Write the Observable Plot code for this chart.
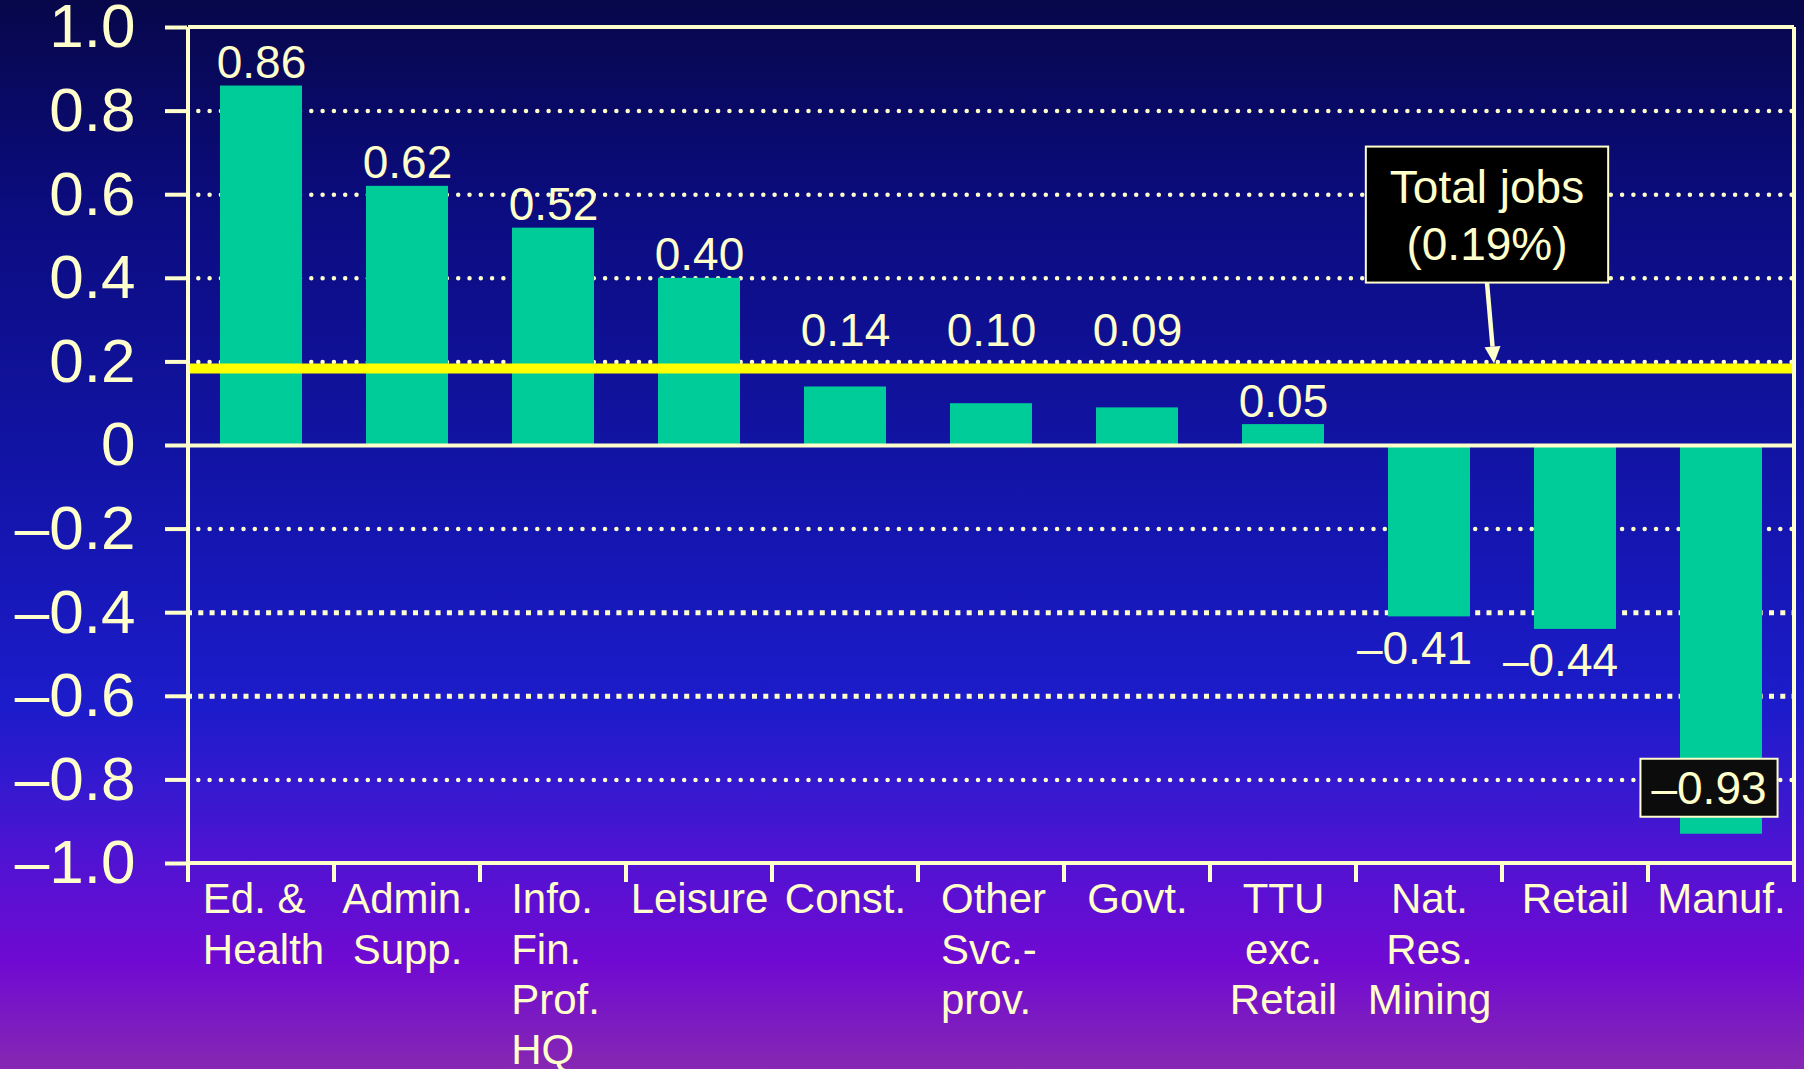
<!DOCTYPE html>
<html>
<head>
<meta charset="utf-8">
<script src="https://cdn.jsdelivr.net/npm/d3@7"></script>
<script src="https://cdn.jsdelivr.net/npm/@observablehq/plot@0.6"></script>
<style>
  html, body { margin: 0; padding: 0; }
  body {
    width: 1804px; height: 1069px; overflow: hidden;
    background: linear-gradient(to bottom,
      #07074a 0%, #0b0c7e 19%, #1113a0 40%, #1516b0 50%, #1c1ccb 66%,
      #3a18d0 75%, #4c14d2 79%, #700ad2 90%, #8628b2 100%);
    font-family: "Liberation Sans", Arial, sans-serif;
  }
</style>
</head>
<body>
<div id="chart"></div>
<script>
// ---- data ----
const categories = ["Ed. &\nHealth", "Admin.\nSupp.", "Info.\nFin.\nProf.\nHQ", "Leisure", "Const.",
  "Other\nSvc.-\nprov.", "Govt.", "TTU\nexc.\nRetail", "Nat.\nRes.\nMining", "Retail", "Manuf."];
const values = [0.86, 0.62, 0.52, 0.40, 0.14, 0.10, 0.09, 0.05, -0.41, -0.44, -0.93];
const valueLabels = ["0.86", "0.62", "0.52", "0.40", "0.14", "0.10", "0.09", "0.05", "–0.41", "–0.44", "–0.93"];
const totalJobs = 0.19;
const totalLines = ["Total jobs", "(0.19%)"];
const yTicks = [-1.0, -0.8, -0.6, -0.4, -0.2, 0, 0.2, 0.4, 0.6, 0.8, 1.0];
const yTickLabels = ["–1.0", "–0.8", "–0.6", "–0.4", "–0.2", "0", "0.2", "0.4", "0.6", "0.8", "1.0"];
const gridTicks = [-0.8, -0.6, -0.4, -0.2, 0.2, 0.4, 0.6, 0.8];

// ---- styling ----
const cream = "#FFFFCC";
const barColor = "#00CC99";
const font = '"Liberation Sans", Arial, sans-serif';
const squareGrid = new Set([-0.4, -0.6]);
const leftAligned = new Set(["Ed. &\nHealth", "Info.\nFin.\nProf.\nHQ", "Other\nSvc.-\nprov."]);

const data = categories.map((c, i) => ({cat: c, value: values[i], label: valueLabels[i]}));
const tickLabel = new Map(yTicks.map((t, i) => [Math.round(t * 10), yTickLabels[i]]));

const ctx = document.createElement("canvas").getContext("2d");
function textWidth(s, size) { ctx.font = `${size}px ${font}`; return ctx.measureText(s).width; }

const W = 1804, H = 1069, ML = 187, MR = 10, MT = 27, MB = 206;
const xFontSize = 42;

// frame, axis lines and category ticks (band boundaries)
function frameMark(index, scales) {
  const {x, y} = scales;
  const bw = x.bandwidth();
  const x0 = x(categories[0]);
  const x1 = x(categories[categories.length - 1]) + bw;
  const yTop = y(1), yBot = y(-1), tickLen = 19;
  const g = d3.create("svg:g").attr("stroke", cream).attr("stroke-width", 4).attr("fill", "none");
  g.append("line").attr("x1", x0).attr("x2", x1).attr("y1", yTop).attr("y2", yTop);
  g.append("line").attr("x1", x0).attr("x2", x1).attr("y1", yBot).attr("y2", yBot);
  g.append("line").attr("x1", x0).attr("x2", x0).attr("y1", yTop).attr("y2", yBot + tickLen);
  g.append("line").attr("x1", x1).attr("x2", x1).attr("y1", yTop).attr("y2", yBot + tickLen);
  categories.forEach(c => {
    g.append("line").attr("x1", x(c)).attr("x2", x(c)).attr("y1", yBot).attr("y2", yBot + tickLen);
  });
  return g.node();
}

// "Total jobs" callout box with arrow
function totalCallout(index, scales) {
  const {x, y} = scales;
  const ax = x("Retail"), ay = y(totalJobs);
  const fs = 46;
  const cx = ax - 15;
  const tw = Math.max(...totalLines.map(s => textWidth(s, fs)));
  const bw = tw + 48, top = ay - 219, bottom = ay - 83;
  const g = d3.create("svg:g");
  const sx = cx, sy = bottom, tx = ax - 8, ty = ay - 2;
  const ang = Math.atan2(ty - sy, tx - sx);
  const hl = 17, hw = 8;
  const bx = tx - hl * Math.cos(ang), by = ty - hl * Math.sin(ang);
  g.append("line").attr("x1", sx).attr("y1", sy).attr("x2", bx).attr("y2", by)
    .attr("stroke", cream).attr("stroke-width", 4.5);
  g.append("path")
    .attr("d", `M${tx},${ty}L${bx + hw * Math.sin(ang)},${by - hw * Math.cos(ang)}L${bx - hw * Math.sin(ang)},${by + hw * Math.cos(ang)}Z`)
    .attr("fill", cream);
  g.append("rect").attr("x", cx - bw / 2).attr("y", top).attr("width", bw).attr("height", bottom - top)
    .attr("fill", "#000").attr("stroke", cream).attr("stroke-width", 2);
  const t = g.append("text").attr("fill", cream).attr("font-size", fs).attr("text-anchor", "middle")
    .attr("font-family", font);
  t.append("tspan").attr("x", cx).attr("y", ay - 163).text(totalLines[0]);
  t.append("tspan").attr("x", cx).attr("y", ay - 106).text(totalLines[1]);
  return g.node();
}

// boxed value labels for bars too long for a label below
function boxedLabels(index, scales) {
  const {x, y} = scales;
  const bwid = x.bandwidth();
  const fs = 46;
  const g = d3.create("svg:g");
  data.filter(d => d.value < -0.8).forEach(d => {
    const cx = x(d.cat) + bwid / 2 - 12;
    const cy = y(d.value) - 46;
    const tw = textWidth(d.label, fs) + 22;
    g.append("rect").attr("x", cx - tw / 2).attr("y", cy - 29).attr("width", tw).attr("height", 58)
      .attr("fill", "#0c0c0c").attr("stroke", cream).attr("stroke-width", 2);
    g.append("text").attr("x", cx).attr("y", cy + 16.5).attr("text-anchor", "middle")
      .attr("fill", cream).attr("font-size", fs).attr("font-family", font).text(d.label);
  });
  return g.node();
}

const nearTotal = d => d.value > 0.06 && d.value < totalJobs;

const xLabelMarks = categories.map(c => {
  const lines = c.split("\n");
  if (leftAligned.has(c)) {
    const w = Math.max(...lines.map(s => textWidth(s, xFontSize)));
    return Plot.text([c], {x: d => d, frameAnchor: "bottom", text: d => d, lineAnchor: "top",
      textAnchor: "start", dx: -w / 2 + 2, dy: 14, fontSize: xFontSize, lineHeight: 1.2, fill: cream});
  }
  return Plot.text([c], {x: d => d, frameAnchor: "bottom", text: d => d, lineAnchor: "top",
    textAnchor: "middle", dy: 14, fontSize: xFontSize, lineHeight: 1.2, fill: cream});
});

const chart = Plot.plot({
  width: W, height: H,
  marginLeft: ML, marginRight: MR, marginTop: MT, marginBottom: MB,
  style: {background: "transparent", color: cream, fontFamily: font, overflow: "visible"},
  x: {type: "band", domain: categories, padding: 0, axis: null},
  y: {domain: [-1, 1], label: null},
  marks: [
    Plot.ruleY(gridTicks.filter(t => !squareGrid.has(t)), {stroke: cream, strokeWidth: 4.5,
      strokeDasharray: "0 11.3", strokeLinecap: "round"}),
    Plot.ruleY(gridTicks.filter(t => squareGrid.has(t)), {stroke: cream, strokeWidth: 5,
      strokeDasharray: "5 6.3", strokeLinecap: "butt"}),
    Plot.barY(data, {x: "cat", y: "value", fill: barColor, insetLeft: 32, insetRight: 32}),
    Plot.ruleY([0], {stroke: cream, strokeWidth: 4}),
    Plot.ruleY([totalJobs], {stroke: "#FFFF00", strokeWidth: 10, dy: 2.5}),
    frameMark,
    Plot.axisY(yTicks, {anchor: "left", label: null, tickSize: 22, tickPadding: 30, strokeWidth: 4,
      fontSize: 62, tickFormat: d => tickLabel.get(Math.round(d * 10)), color: cream}),
    Plot.text(data.filter(d => d.value > 0 && !nearTotal(d)), {x: "cat", y: "value", text: "label",
      lineAnchor: "bottom", dy: -8, fontSize: 46, fill: cream}),
    Plot.text(data.filter(nearTotal), {x: "cat", y: () => totalJobs, text: "label",
      lineAnchor: "bottom", dy: -20, fontSize: 46, fill: cream}),
    Plot.text(data.filter(d => d.value < 0 && d.value >= -0.8), {x: "cat", y: "value", text: "label",
      lineAnchor: "top", dy: 14, dx: -15, fontSize: 46, fill: cream}),
    boxedLabels,
    totalCallout,
    ...xLabelMarks
  ]
});
document.getElementById("chart").appendChild(chart);
</script>
</body>
</html>
